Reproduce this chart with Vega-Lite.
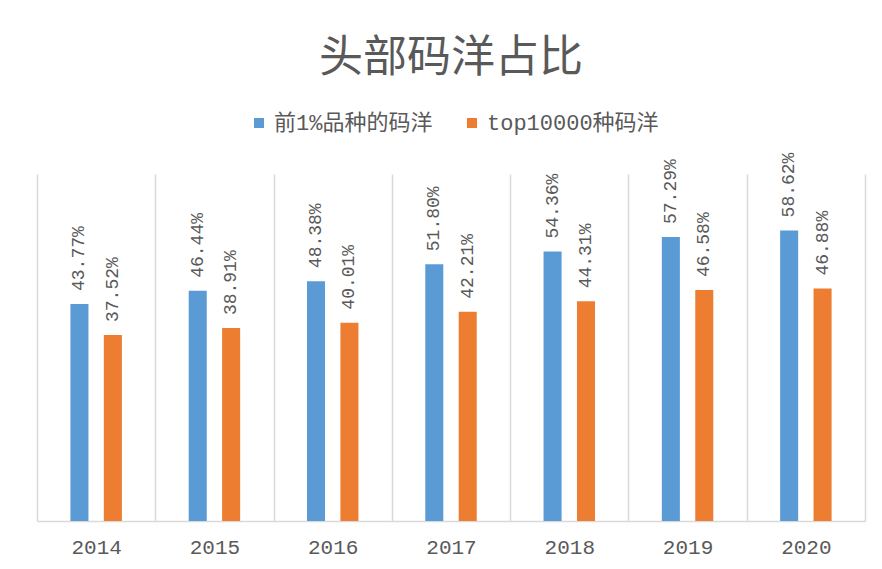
{
  "$schema": "https://vega.github.io/schema/vega-lite/v6.json",
  "width": 828,
  "height": 347,
  "autosize": {"type": "none"},
  "padding": {"left": 37, "top": 174, "right": 17, "bottom": 48},
  "background": "white",
  "title": {
    "text": "头部码洋占比",
    "font": "Noto Sans CJK SC",
    "fontSize": 44,
    "fontWeight": "normal",
    "color": "#595959",
    "anchor": "middle",
    "frame": "group",
    "baseline": "bottom",
    "offset": -13
  },
  "data": {
    "values": [
      {"year": "2014", "series": "前1%品种的码洋", "value": 0.4377},
      {"year": "2014", "series": "top10000种码洋", "value": 0.3752},
      {"year": "2015", "series": "前1%品种的码洋", "value": 0.4644},
      {"year": "2015", "series": "top10000种码洋", "value": 0.3891},
      {"year": "2016", "series": "前1%品种的码洋", "value": 0.4838},
      {"year": "2016", "series": "top10000种码洋", "value": 0.4001},
      {"year": "2017", "series": "前1%品种的码洋", "value": 0.5180},
      {"year": "2017", "series": "top10000种码洋", "value": 0.4221},
      {"year": "2018", "series": "前1%品种的码洋", "value": 0.5436},
      {"year": "2018", "series": "top10000种码洋", "value": 0.4431},
      {"year": "2019", "series": "前1%品种的码洋", "value": 0.5729},
      {"year": "2019", "series": "top10000种码洋", "value": 0.4658},
      {"year": "2020", "series": "前1%品种的码洋", "value": 0.5862},
      {"year": "2020", "series": "top10000种码洋", "value": 0.4688}
    ]
  },
  "encoding": {
    "x": {
      "field": "year",
      "type": "nominal",
      "scale": {"paddingInner": 0, "paddingOuter": 0},
      "axis": {
        "title": null,
        "labelAngle": 0,
        "ticks": false,
        "tickBand": "extent",
        "grid": true,
        "gridColor": "#d9d9d9",
        "gridWidth": 1.5,
        "domainColor": "#d9d9d9",
        "domainWidth": 1.5,
        "labelFont": "Liberation Mono",
        "labelFontSize": 21,
        "labelColor": "#595959",
        "labelPadding": 15
      }
    },
    "xOffset": {
      "field": "series",
      "type": "nominal",
      "scale": {"domain": ["前1%品种的码洋", "top10000种码洋"], "paddingInner": 0.46, "paddingOuter": 1.18}
    },
    "y": {
      "field": "value",
      "type": "quantitative",
      "scale": {"domain": [0, 0.7]},
      "axis": null
    }
  },
  "layer": [
    {
      "mark": {"type": "bar"},
      "encoding": {
        "color": {
          "field": "series",
          "type": "nominal",
          "scale": {"domain": ["前1%品种的码洋", "top10000种码洋"], "range": ["#5B9BD5", "#ED7D31"]},
          "legend": {
            "title": null,
            "orient": "none",
            "direction": "horizontal",
            "legendX": 211,
            "legendY": -62,
            "symbolType": "square",
            "symbolSize": 100,
            "symbolStrokeWidth": 0,
            "labelFont": "Liberation Mono, Noto Sans CJK SC",
            "labelFontSize": 22,
            "labelColor": "#595959",
            "labelOffset": 4,
            "columnPadding": 28,
            "labelLimit": 300
          }
        }
      }
    },
    {
      "mark": {
        "type": "text",
        "angle": 270,
        "align": "left",
        "baseline": "middle",
        "dx": 13,
        "font": "Liberation Mono",
        "fontSize": 18,
        "color": "#595959"
      },
      "encoding": {
        "text": {"field": "value", "type": "quantitative", "format": ".2%"}
      }
    }
  ],
  "config": {"view": {"stroke": null}}
}
